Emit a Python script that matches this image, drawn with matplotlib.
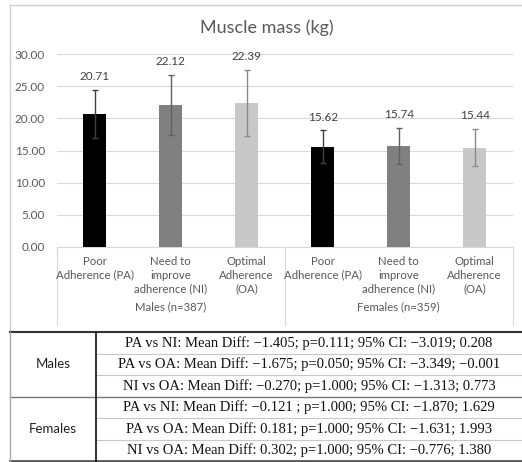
import matplotlib.pyplot as plt
import matplotlib.transforms as mtransforms
from matplotlib.lines import Line2D

# data
groups = ['Males (n=387)', 'Females (n=359)']
categories = ['Poor\nAdherence (PA)', 'Need to\nimprove\nadherence (NI)', 'Optimal\nAdherence\n(OA)']
means = [20.71, 22.12, 22.39, 15.62, 15.74, 15.44]
sds = [3.75, 4.7, 5.1, 2.5, 2.8, 2.9]
bar_colors = ['#000000', '#808080', '#c8c8c8']
err_colors = ['#404040', '#606060', '#8a8a8a']
yticks = [0, 5, 10, 15, 20, 25, 30]

table_groups = ['Males', 'Females']
table_rows = [
    ['PA vs NI: Mean Diff: \u22121.405; p=0.111; 95% CI: \u22123.019; 0.208',
     'PA vs OA: Mean Diff: \u22121.675; p=0.050; 95% CI: \u22123.349; \u22120.001',
     'NI vs OA: Mean Diff: \u22120.270; p=1.000; 95% CI: \u22121.313; 0.773'],
    ['PA vs NI: Mean Diff: \u22120.121 ; p=1.000; 95% CI: \u22121.870; 1.629',
     'PA vs OA: Mean Diff: 0.181; p=1.000; 95% CI: \u22121.631; 1.993',
     'NI vs OA: Mean Diff: 0.302; p=1.000; 95% CI: \u22120.776; 1.380'],
]

W, H = 522, 462
fig = plt.figure(figsize=(W / 100, H / 100), dpi=100)
sans = ['Lato', 'DejaVu Sans']
txt = '#595959'


def fx(px):
    return px / W


def fy(py):
    return 1 - py / H


# plot area in pixels
left, right, top, bottom = 56.7, 512.7, 54.3, 246.7
ax = fig.add_axes([fx(left), fy(bottom), fx(right - left), (bottom - top) / H])

x = list(range(len(means)))
ax.bar(x, means, width=0.31, color=[bar_colors[i % 3] for i in x], zorder=3)
for i in x:
    ax.errorbar(i, means[i], yerr=sds[i], color=err_colors[i % 3], lw=1,
                capsize=2.5, capthick=1, zorder=4)
    ax.annotate(f'{means[i]:.2f}', (i, means[i] + sds[i]), xytext=(0, 9.7),
                textcoords='offset points', ha='center', va='center',
                fontsize=8.5, color='#404040', family=sans)

ax.set_xlim(-0.5, len(means) - 0.5)
ax.set_ylim(0, 30)
ax.set_yticks(yticks)
ax.set_yticklabels([f'{v:.2f}' for v in yticks], fontsize=8.5, color=txt, family=sans)
ax.tick_params(axis='y', length=0, pad=8.4)
ax.set_xticks([])
ax.grid(axis='y', color='#d9d9d9', lw=0.8, zorder=0)
for s in ax.spines.values():
    s.set_visible(False)

# category axis
trans = mtransforms.blended_transform_factory(ax.transData, fig.transFigure)
ax.add_line(Line2D([-0.5, 5.5], [fy(bottom), fy(bottom)], transform=trans,
                   color='#d9d9d9', lw=0.8, clip_on=False))
for xv in [-0.5, 2.5, 5.5]:
    ax.add_line(Line2D([xv, xv], [fy(bottom), fy(325)], transform=trans,
                       color='#d9d9d9', lw=0.8, clip_on=False))
for i in x:
    ax.text(i, fy(256), categories[i % 3], transform=trans, ha='center', va='top',
            fontsize=8.2, color=txt, family=sans, linespacing=1.3)
for g, name in enumerate(groups):
    ax.text(g * 3 + 1, fy(307), name, transform=trans, ha='center', va='center',
            fontsize=8.2, color=txt, family=sans)

fig.text(fx(267), fy(28), 'Muscle mass (kg)', ha='center', va='center',
         fontsize=13, color=txt, family=sans)

# chart border
fig.add_artist(Line2D([fx(10), fx(10)], [fy(5), fy(332)], color='#d0d0d0', lw=1))
fig.add_artist(Line2D([fx(10), fx(522)], [fy(5), fy(5)], color='#d0d0d0', lw=1))

# table
t_top, row_h = 332.3, 21.45
col_x = 96
fig.add_artist(Line2D([fx(10), fx(522)], [fy(t_top), fy(t_top)], color='#333333', lw=1.5))
for g, name in enumerate(table_groups):
    g_top = t_top + g * 3 * row_h
    fig.text(fx(53), fy(g_top + 1.5 * row_h), name, ha='center', va='center',
             fontsize=9.5, color='#222222', family=sans)
    for r, line in enumerate(table_rows[g]):
        yc = g_top + (r + 0.5) * row_h
        fig.text(fx(309), fy(yc), line, ha='center', va='center',
                 fontsize=10.5, color='#111111', family=['Liberation Serif'])
        if r > 0:
            yl = g_top + r * row_h
            fig.add_artist(Line2D([fx(col_x), fx(522)], [fy(yl), fy(yl)],
                                  color='#c8c8c8', lw=0.8))
mid = t_top + 3 * row_h
fig.add_artist(Line2D([fx(10), fx(522)], [fy(mid), fy(mid)], color='#777777', lw=1))
t_bot = t_top + 6 * row_h
fig.add_artist(Line2D([fx(10), fx(522)], [fy(t_bot), fy(t_bot)], color='#555555', lw=2))
fig.add_artist(Line2D([fx(col_x), fx(col_x)], [fy(t_top), fy(t_bot)], color='#111111', lw=1.2))
fig.add_artist(Line2D([fx(10), fx(10)], [fy(t_top), fy(t_bot)], color='#aaaaaa', lw=1))

fig.savefig('out.png', dpi=100)
